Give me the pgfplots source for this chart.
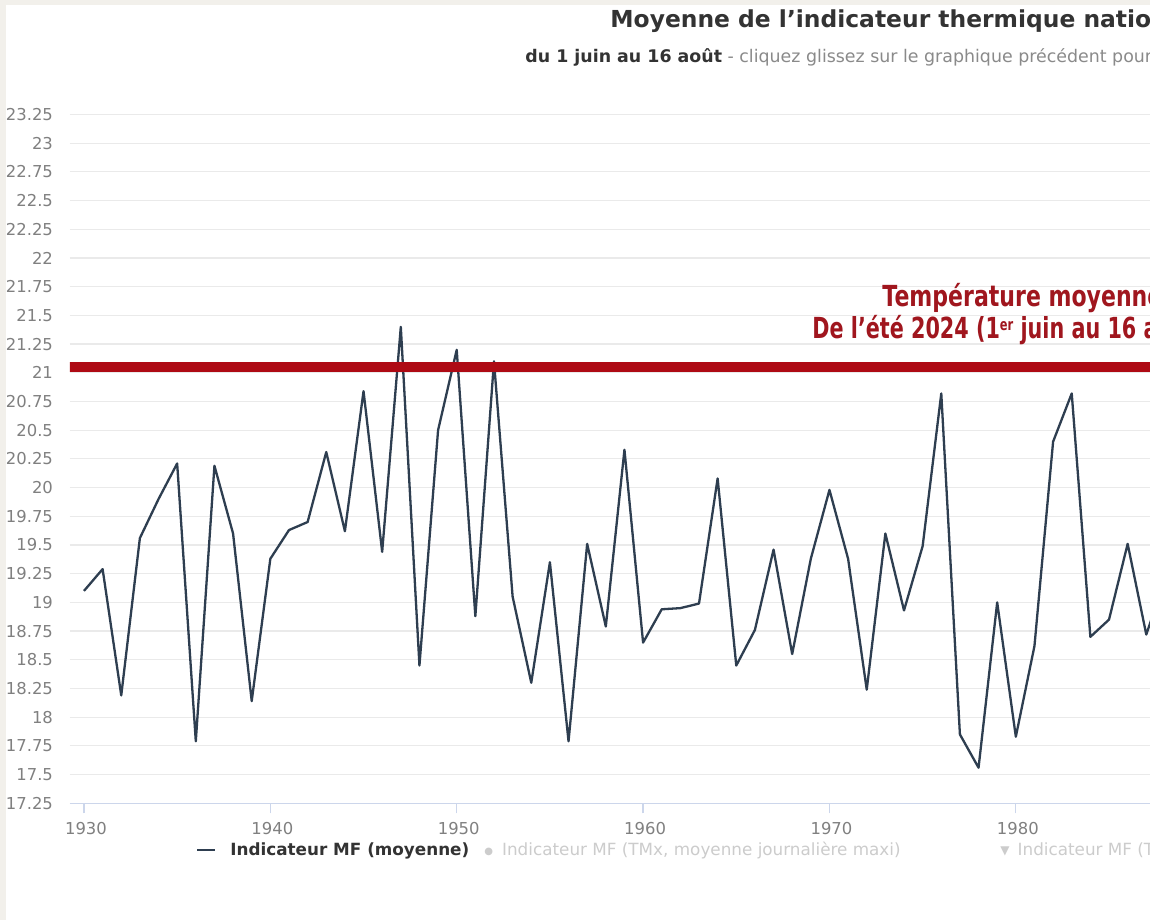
\documentclass[border=0pt]{standalone}
\usepackage{fontspec}
\setmainfont{DejaVu Sans}
\usepackage{graphicx}
\usepackage{pgfplots}
\pgfplotsset{compat=1.18}
\definecolor{linec}{HTML}{2E3E50}
\definecolor{gridc}{HTML}{EAEAEA}
\definecolor{axisc}{HTML}{CCD6EB}
\definecolor{tickc}{HTML}{808080}
\definecolor{redc}{HTML}{AE0A14}
\definecolor{annc}{HTML}{A0161E}
\definecolor{beige}{HTML}{F2F0EB}
\definecolor{titc}{HTML}{333333}
\definecolor{subc}{HTML}{8A8A8A}
\definecolor{hidc}{HTML}{CCCCCC}
\pgfplotstableread{
year val
1930 19.10
1931 19.29
1932 18.19
1933 19.56
1934 19.90
1935 20.21
1936 17.79
1937 20.19
1938 19.60
1939 18.14
1940 19.38
1941 19.63
1942 19.70
1943 20.31
1944 19.62
1945 20.84
1946 19.44
1947 21.40
1948 18.45
1949 20.50
1950 21.20
1951 18.88
1952 21.10
1953 19.05
1954 18.30
1955 19.35
1956 17.79
1957 19.51
1958 18.79
1959 20.33
1960 18.65
1961 18.94
1962 18.95
1963 18.99
1964 20.08
1965 18.45
1966 18.76
1967 19.46
1968 18.55
1969 19.38
1970 19.98
1971 19.38
1972 18.24
1973 19.60
1974 18.93
1975 19.49
1976 20.82
1977 17.85
1978 17.56
1979 19.00
1980 17.83
1981 18.62
1982 20.40
1983 20.82
1984 18.70
1985 18.85
1986 19.51
1987 18.72
1988 19.20
}\datatable
\begin{document}
\begin{tikzpicture}
\fill[white] (0pt,0pt) rectangle (575pt,460pt);
\fill[beige] (0pt,0pt) rectangle (3pt,460pt);
\fill[beige] (0pt,457.5pt) rectangle (575pt,460pt);
\useasboundingbox (0pt,0pt) rectangle (575pt,460pt);
\begin{axis}[
  at={(35pt,58.35pt)}, anchor=south west,
  scale only axis, width=540pt, height=344.4pt,
  xmin=1929.25, xmax=1987.2, ymin=17.25, ymax=23.25,
  axis lines*=left,
  x axis line style={draw=axisc, line width=0.6pt},
  y axis line style={draw=none},
  xtick={1930,1940,1950,1960,1970,1980},
  ytick={17.25,17.5,17.75,18,18.25,18.5,18.75,19,19.25,19.5,19.75,20,20.25,20.5,20.75,21,21.25,21.5,21.75,22,22.25,22.5,22.75,23,23.25},
  ymajorgrids, grid style={draw=gridc, line width=0.6pt},
  ytick style={draw=none},
  xtick style={draw=axisc, line width=0.6pt},
  tick align=outside, major tick length=5pt,
  /pgf/number format/assume math mode=true,
  /pgf/number format/1000 sep={},
  yticklabel style={/pgf/number format/fixed, /pgf/number format/precision=2, font=\fontsize{8.2}{10}\selectfont, text=tickc, xshift=0pt},
  xticklabel style={font=\fontsize{8.2}{10}\selectfont, text=tickc, yshift=-1pt, xshift=1pt},
  clip=true,
]
\addplot[linec, line width=1.15pt, line join=round] table[x=year, y=val] {\datatable};
\addplot[redc, line width=5.2pt] coordinates {(1929.1,21.05) (1990,21.05)};
\end{axis}
% title and subtitle
\node[anchor=base west, inner sep=0pt, text=titc, font=\bfseries\fontsize{11.7}{14}\selectfont] at (305pt,446pt) {Moyenne de l'indicateur thermique national};
\node[anchor=base west, inner sep=0pt, text=subc, font=\fontsize{8.7}{10}\selectfont] at (262.5pt,428.5pt) {\textcolor{titc}{\bfseries du 1 juin au 16 août} - cliquez glissez sur le graphique précédent pour zoomer};
% annotation
\node[anchor=base west, inner sep=0pt, text=annc, font=\bfseries\fontsize{14.5}{16}\selectfont] at (441pt,306.5pt) {\scalebox{0.76}[1]{Température moyenne}};
\node[anchor=base west, inner sep=0pt, text=annc, font=\bfseries\fontsize{14.5}{16}\selectfont] at (406pt,290.5pt) {\scalebox{0.715}[1]{De l'été 2024 (1\raisebox{0.55ex}{\fontsize{8}{9}\selectfont er} juin au 16 août)}};
% legend
\draw[linec, line width=1.1pt] (98.5pt,35pt) -- (107.5pt,35pt);
\node[anchor=base west, inner sep=0pt, text=titc, font=\bfseries\fontsize{8.4}{10}\selectfont] at (115pt,32pt) {Indicateur MF (moyenne)};
\node[anchor=base west, inner sep=0pt, text=hidc, font=\fontsize{8.4}{10}\selectfont] at (242pt,32pt) {{\fontsize{5}{6}\selectfont\raisebox{0.35ex}{●}}\hspace{4.5pt}Indicateur MF (TMx, moyenne journalière maxi)};
\node[anchor=base west, inner sep=0pt, text=hidc, font=\fontsize{8.4}{10}\selectfont] at (500pt,32pt) {{\fontsize{6}{7}\selectfont\raisebox{0.25ex}{▼}}\hspace{4pt}Indicateur MF (TNx, moyenne journalière mini)};
\end{tikzpicture}
\end{document}
